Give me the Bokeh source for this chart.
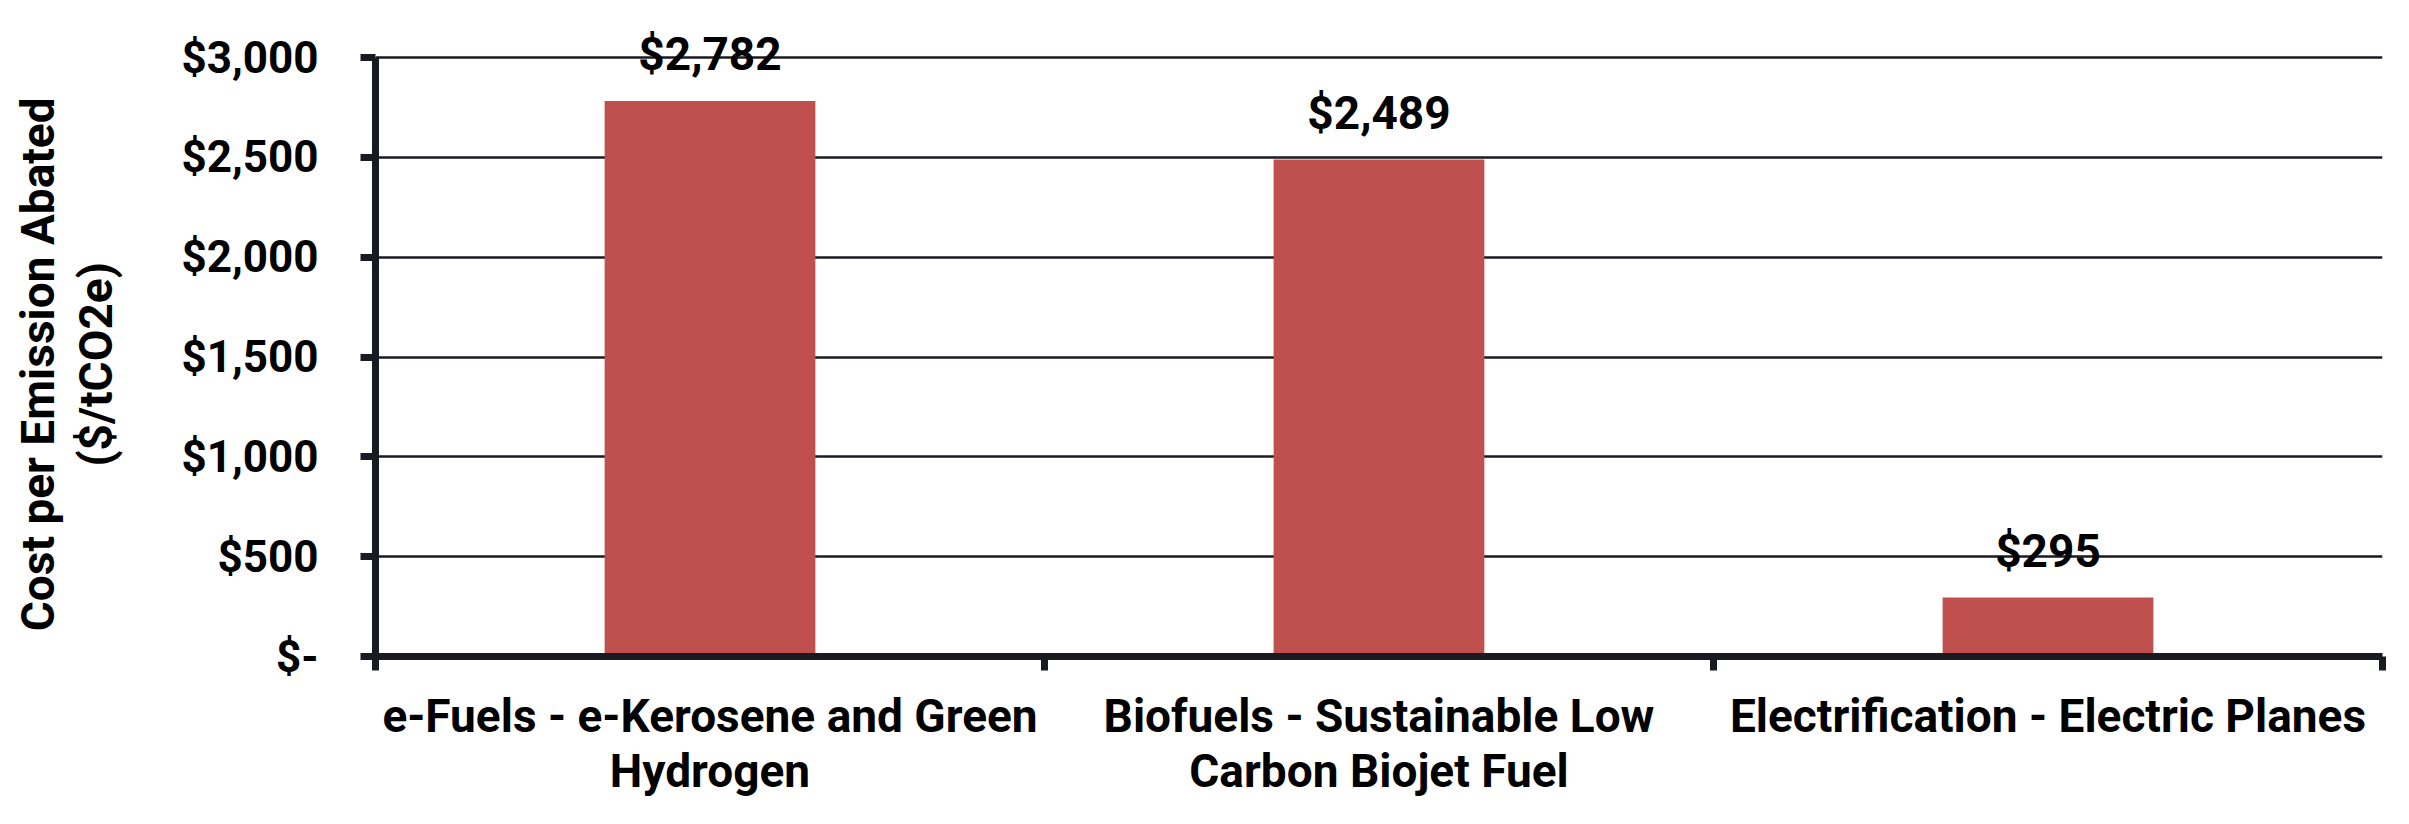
from bokeh.plotting import figure
from bokeh.models import ColumnDataSource, FixedTicker, NumeralTickFormatter, LabelSet, Range1d
from bokeh.core.properties import value
from bokeh.embed import file_html
from bokeh.resources import INLINE

categories = ["e-Fuels - e-Kerosene and Green Hydrogen",
              "Biofuels - Sustainable Low Carbon Biojet Fuel",
              "Electrification - Electric Planes"]
tick_labels = ["e-Fuels - e-Kerosene and Green\nHydrogen",
               "Biofuels - Sustainable Low\nCarbon Biojet Fuel",
               "Electrification - Electric Planes"]
values = [2782, 2489, 295]
y_ticks = [0, 500, 1000, 1500, 2000, 2500, 3000]
y_max = 3000

FONT = "Roboto"
DARK = "#1a1a22"
BAR = "#C0504D"

# layout (pixels)
W, H = 2393, 812
BORDER_L, BORDER_R = 375, 11
FRAME_TOP, AXIS_TOP, FRAME_BOTTOM = 26, 57, 656
y_end = y_max * (FRAME_BOTTOM - FRAME_TOP) / (FRAME_BOTTOM - AXIS_TOP)

xpos = [i + 0.5 for i in range(len(categories))]
src = ColumnDataSource(dict(x=xpos, top=values, cat=categories,
                            label=["${:,.0f}".format(v) for v in values]))

p = figure(width=W, height=H, output_backend="svg", toolbar_location=None,
           x_range=Range1d(0, len(categories)), y_range=Range1d(0, y_end),
           min_border_left=BORDER_L, min_border_right=BORDER_R,
           min_border_top=FRAME_TOP, min_border_bottom=H - FRAME_BOTTOM)
p.outline_line_color = None
p.background_fill_color = "white"
p.border_fill_color = "white"

p.vbar(x="x", top="top", bottom=0, width=0.315, source=src,
       fill_color=BAR, line_color=None)

p.add_layout(LabelSet(x="x", y="top", text="label", source=src, y_offset=47,
                      text_align="center", text_baseline="middle",
                      text_font=value(FONT), text_font_style="bold",
                      text_font_size="46px", text_color="black"))

# x axis
p.xgrid.visible = False
xa = p.xaxis[0]
xa.ticker = FixedTicker(ticks=xpos, minor_ticks=list(range(len(categories) + 1)))
xa.major_label_overrides = {x: t for x, t in zip(xpos, tick_labels)}
xa.major_tick_out = 0
xa.major_tick_in = 0
xa.minor_tick_out = 14
xa.minor_tick_in = 0
xa.minor_tick_line_width = 7
xa.minor_tick_line_color = DARK
xa.axis_line_width = 7
xa.axis_line_color = DARK
xa.major_label_standoff = 18
xa.major_label_text_font = FONT
xa.major_label_text_font_style = "bold"
xa.major_label_text_font_size = "46px"
xa.major_label_text_line_height = 1.03
xa.major_label_text_color = "black"

# y axis
ya = p.yaxis[0]
ya.bounds = (0, y_max)
ya.ticker = FixedTicker(ticks=y_ticks)
ya.formatter = NumeralTickFormatter(format="$0,0")
ya.major_label_overrides = {0: "$-"}
ya.major_tick_out = 15
ya.major_tick_in = 0
ya.major_tick_line_width = 7
ya.major_tick_line_color = DARK
ya.minor_tick_line_color = None
ya.axis_line_width = 7
ya.axis_line_color = DARK
ya.major_label_standoff = 42
ya.major_label_text_font = FONT
ya.major_label_text_font_style = "bold"
ya.major_label_text_font_size = "44px"
ya.major_label_text_color = "black"
pad = "\u00a0" * 4
ya.axis_label = "Cost per Emission Abated" + pad + "\n($/tCO2e)" + pad
ya.axis_label_text_font = FONT
ya.axis_label_text_font_style = "bold"
ya.axis_label_text_font_size = "46px"
ya.axis_label_text_line_height = 1.08
ya.axis_label_text_color = "black"
ya.axis_label_standoff = 55

p.ygrid.ticker = FixedTicker(ticks=y_ticks)
p.ygrid.grid_line_color = DARK
p.ygrid.grid_line_width = 2.5

open("out.html", "w").write(file_html(p, INLINE))
